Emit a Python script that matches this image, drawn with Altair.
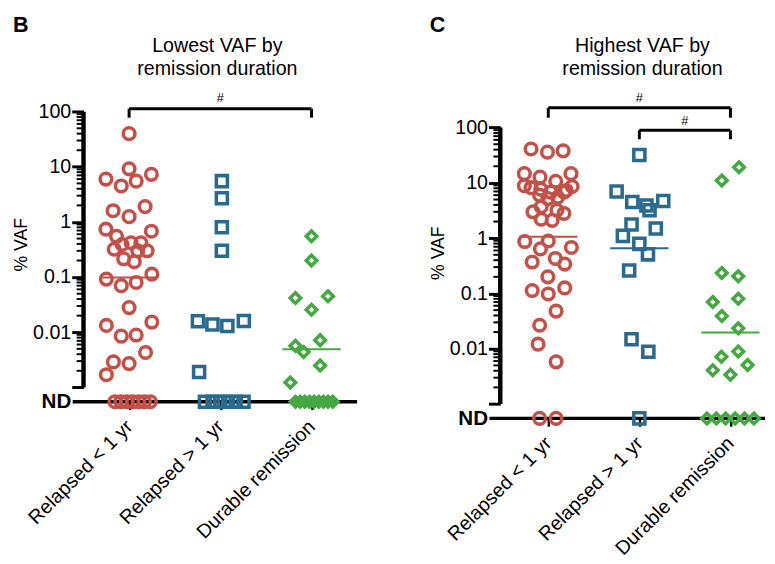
import math
import altair as alt
import pandas as pd

ND = "ND"
CATEGORIES = ["Relapsed < 1 yr", "Relapsed > 1 yr", "Durable remission"]
COLORS = ["#C4504A", "#2B6A8F", "#45A843"]
SHAPES = ["circle", "square", "diamond"]
SIZES = [140, 115, 105]

# ---- Panel B: lowest VAF ----
LOW_R1_VALUES = [40, 9.2, 6.0, 7.3, 4.5, 5.5, 1.6, 1.9, 1.25, 0.74, 0.68, 0.55,
                 0.32, 0.39, 0.42, 0.42, 0.30, 0.30, 0.215, 0.19, 0.092, 0.070,
                 0.080, 0.113, 0.028, 0.0133, 0.0085, 0.0089, 0.0153, 0.0043,
                 0.0029, 0.0027, 0.0017, ND, ND, ND, ND, ND, ND, ND]
LOW_R1_SLOT = [0, 0, -2.96, 2.84, -1, 0.9, -2.04, 2.04, 0, -2.96, 2.84, -1.6,
               -1.9, -0.9, 0.25, 1.5, 2.3, 1.1, -0.7, 0.66, -2.9, -1, 0.9, 2.9,
               0, -2.9, -1, 0.9, 2.9, 2.1, -2, 0, -2.9,
               -1.8, -1.05, -0.3, 0.45, 1.2, 1.95, 2.7]
LOW_R2_VALUES = [5.5, 2.7, 0.80, 0.30, 0.0158, 0.0138, 0.013, 0.016, 0.0019,
                 ND, ND, ND, ND, ND, ND]
LOW_R2_SLOT = [0.2, 0.2, 0.2, 0.2, -2.85, -1, 0.9, 3, -2.7,
               -1.96, -0.98, 0, 0.98, 1.96, 2.96]
LOW_DR_VALUES = [0.55, 0.20, 0.042, 0.045, 0.0255, 0.0072, 0.0057, 0.0044,
                 0.0025, 0.00123, ND, ND, ND, ND, ND, ND, ND, ND, ND]
LOW_DR_SLOT = [0, 0, -2.05, 2.1, 0, 1.1, -2.05, -1, 1.1, -2.7,
               -2.04, -1.45, -0.85, -0.26, 0.33, 0.93, 1.52, 2.11, 2.71]
LOW_MEDIANS = [0.098, None, 0.0049]
LOW_BRACKETS = {"a": [0], "b": [2], "top": [113], "bottom": [78], "mark": [178]}

# ---- Panel C: highest VAF ----
HIGH_R1_VALUES = [41, 36, 38, 14.7, 12.7, 10.7, 14.7, 8.9, 8.2, 7.7, 6.8, 8.6,
                  7.3, 6.0, 5.2, 5.5, 6.8, 3.0, 3.7, 3.2, 2.8, 2.2, 2.1, 0.87,
                  0.89, 0.64, 0.68, 0.43, 0.37, 0.34, 0.20, 0.113, 0.098, 0.126,
                  0.048, 0.0266, 0.0121, 0.0058, ND, ND]
HIGH_R1_SLOT = [-2.2, -0.1, 1.9, -3.05, -1.05, 0.95, 2.9, -3.05, -2.2, -0.95,
                0.3, 3.05, 2.3, -1.1, -0.05, 1.2, 2.0, -1.95, -0.9, 1.1, 2.0,
                -0.9, 0.5, -3, 0, -1.0, 2.95, 0.9, -2.05, 2.1, -0.05, -2.05, 0,
                2.1, 1.0, -1.1, -1.3, 1.0, -1.1, 1.0]
HIGH_R2_VALUES = [31.9, 7.0, 4.5, 3.9, 3.2, 4.7, 1.77, 1.1, 1.5, 0.79, 0.51,
                  0.26, 0.0149, 0.0088, ND]
HIGH_R2_SLOT = [0, -2.9, -0.9, 0.9, 1.3, 3.05, -1, -2.1, 2.1, 0, 1.1, -1.3,
                -1, 1.15, 0]
HIGH_DR_VALUES = [19.2, 11.1, 0.234, 0.204, 0.070, 0.080, 0.039, 0.0235,
                  0.0089, 0.0072, 0.0051, 0.0041, 0.0034, ND, ND, ND, ND, ND, ND]
HIGH_DR_SLOT = [1.1, -1.1, -1.1, 1.0, -2.25, 1.0, -1.1, 1.0, 1.0, -1.15, 2.2,
                -2.25, 0, -3, -1.8, -0.6, 0.6, 1.8, 3]
HIGH_MEDIANS = [1.06, 0.66, 0.0196]
HIGH_BRACKETS = {"a": [0, 1], "b": [2, 2], "top": [228, 89.4],
                 "bottom": [151, 61.7], "mark": [345, 133]}

# ---- axis ticks ----
ND_LEVEL = 0.00055          # where the "not detected" row sits on the log axis
MAJOR_TICKS = [0.001, 0.01, 0.1, 1, 10, 100]
LABELED_TICKS = [0.01, 0.1, 1, 10, 100]
MINOR_TICKS = [k * 10.0 ** d for d in range(-3, 2) for k in range(2, 10)]

PX_PER_DECADE = 56.3
STEP = 93.0
SLOT_UNIT = 8.0 / STEP
MEDIAN_HALF = 0.32
FONT = "Liberation Sans"


def points_frame(values_sets, slot_sets):
    rows = []
    for i, (vals, slots) in enumerate(zip(values_sets, slot_sets)):
        for v, s in zip(vals, slots):
            rows.append({"group": CATEGORIES[i], "idx": i, "slot": s,
                         "vaf": ND_LEVEL if v == ND else v})
    return pd.DataFrame(rows)


def panel(letter, title_lines, values_sets, slot_sets, medians, brackets,
          top, xmin, xmax, title_dx):
    height = round(PX_PER_DECADE * math.log10(top / ND_LEVEL))
    width = round(STEP * (xmax - xmin))
    xs = alt.Scale(domain=[xmin, xmax], nice=False, zero=False)
    ys = alt.Scale(type="log", domain=[ND_LEVEL, top], nice=False)
    nd_test = f"datum.value < {ND_LEVEL * 1.5}"
    yaxis = alt.Axis(
        values=MAJOR_TICKS + [ND_LEVEL],
        labelExpr=f"{nd_test} ? 'ND' : (indexof({LABELED_TICKS}, datum.value) >= 0 ? toString(datum.value) : '')",
        labelFontWeight={"condition": {"test": nd_test, "value": "bold"}, "value": "normal"},
        labelFontSize={"condition": {"test": nd_test, "value": 21}, "value": 20},
        tickColor={"condition": {"test": nd_test, "value": "transparent"}, "value": "black"},
        tickSize=12, tickWidth=3, domain=False, grid=False,
        labelPadding=1, labelColor="black",
        titleFontSize=18, titleFontWeight="normal", titlePadding=2, titleColor="black",
    )
    xaxis = alt.Axis(
        values=[0, 1, 2], labelExpr=f"{CATEGORIES}[datum.value]",
        labelAngle=-45, labelAlign="right", labelBaseline="middle",
        labelFontSize=20, labelPadding=14, labelColor="black", labelOverlap=False,
        tickSize=8, tickWidth=2.5, tickColor="black",
        domain=False, grid=False,
    )

    def X(field):
        return alt.X(field, type="quantitative", scale=xs, axis=xaxis, title=None)

    def Y(field):
        return alt.Y(field, type="quantitative", scale=ys, axis=yaxis, title="% VAF")

    color = alt.Color("group:N", scale=alt.Scale(domain=CATEGORIES, range=COLORS), legend=None)

    nd_line = alt.Chart(pd.DataFrame({"nd": [ND_LEVEL]})).mark_rule(
        strokeWidth=3.5, color="black").encode(
        y=Y("nd"), x=alt.value(-11), x2=alt.value(width))

    axis_line = alt.Chart(pd.DataFrame({"lo": [min(MAJOR_TICKS)], "hi": [max(MAJOR_TICKS)]})).mark_rule(
        strokeWidth=4.5, color="black").encode(
        y=Y("lo"), y2="hi:Q", x=alt.value(0))

    minor = alt.Chart(pd.DataFrame({"t": MINOR_TICKS})).mark_rule(
        strokeWidth=2, color="black").encode(
        y=Y("t"), x=alt.value(-7), x2=alt.value(0))

    br_df = pd.DataFrame(brackets)
    br_h = alt.Chart(br_df).mark_rule(strokeWidth=3, color="black").encode(
        x=X("a"), x2="b:Q", y=Y("top"))
    br_legs = alt.Chart(br_df).transform_fold(["a", "b"], as_=["end", "pos"]).mark_rule(
        strokeWidth=3, color="black").encode(
        x=X("pos"), y=Y("top"), y2="bottom:Q")
    br_txt = alt.Chart(br_df).transform_calculate(mid="(datum.a + datum.b) / 2").mark_text(
        text="#", fontSize=13, color="black", baseline="middle").encode(
        x=X("mid"), y=Y("mark"))

    med_rows = [{"group": CATEGORIES[i], "idx": i, "vaf": m}
                for i, m in enumerate(medians) if m is not None]
    med = alt.Chart(pd.DataFrame(med_rows)).transform_calculate(
        x1=f"datum.idx - {MEDIAN_HALF}", x2=f"datum.idx + {MEDIAN_HALF}").mark_rule(
        strokeWidth=2).encode(x=X("x1"), x2="x2:Q", y=Y("vaf"), color=color)

    pts = alt.Chart(points_frame(values_sets, slot_sets)).transform_calculate(
        xpos=f"datum.idx + datum.slot * {SLOT_UNIT}").mark_point(
        filled=False, opacity=1, strokeWidth=3.6).encode(
        x=X("xpos"), y=Y("vaf"), color=color,
        shape=alt.Shape("group:N", scale=alt.Scale(domain=CATEGORIES, range=SHAPES), legend=None),
        size=alt.Size("group:O", scale=alt.Scale(domain=CATEGORIES, range=SIZES), legend=None),
    )

    layer = alt.layer(nd_line, axis_line, minor, br_h, br_legs, br_txt, med, pts).properties(
        width=width, height=height,
        title=alt.TitleParams(title_lines, anchor="middle", fontSize=20, fontWeight="normal",
                              lineHeight=24, offset=8, dx=title_dx, color="black", font=FONT),
    )
    return alt.vconcat(layer, title=alt.TitleParams(letter, anchor="start", frame="bounds",
                                                     fontSize=22, fontWeight="bold", offset=-1,
                                                     color="black", font=FONT))


left = panel("B", ["Lowest VAF by", "remission duration"],
             [LOW_R1_VALUES, LOW_R2_VALUES, LOW_DR_VALUES],
             [LOW_R1_SLOT, LOW_R2_SLOT, LOW_DR_SLOT],
             LOW_MEDIANS, LOW_BRACKETS, top=281, xmin=-0.5, xmax=2.5, title_dx=-3)
right = panel("C", ["Highest VAF by", "remission duration"],
              [HIGH_R1_VALUES, HIGH_R2_VALUES, HIGH_DR_VALUES],
              [HIGH_R1_SLOT, HIGH_R2_SLOT, HIGH_DR_SLOT],
              HIGH_MEDIANS, HIGH_BRACKETS, top=544, xmin=-0.527, xmax=2.38, title_dx=10)

chart = alt.hconcat(left, right, spacing=72).properties(
    padding={"left": 5, "top": 1, "right": 0, "bottom": 0}
).configure(font=FONT).configure_view(stroke=None)

chart.save("out.html", embed_options={"renderer": "svg", "actions": False})
